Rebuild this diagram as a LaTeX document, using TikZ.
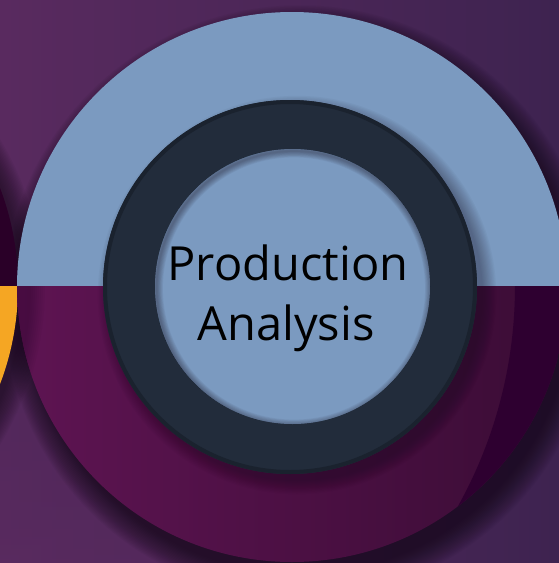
\documentclass[tikz,border=0pt]{standalone}
\usepackage{fontspec}
\setmainfont{Open Sans}
\definecolor{bgl}{HTML}{592A5F}
\definecolor{bgr}{HTML}{3E2350}
\definecolor{lblue}{HTML}{7B9AC0}
\definecolor{magl}{HTML}{5E1452}
\definecolor{magr}{HTML}{3A0C35}
\definecolor{magdark}{HTML}{2E0030}
\definecolor{ringc}{HTML}{222C3B}
\definecolor{ringb}{HTML}{1A222E}
\definecolor{leftdark}{HTML}{2A0028}
\definecolor{orng}{HTML}{F5A623}
\definecolor{shad}{HTML}{140A18}
\tikzset{
  labeltext/.style={font=\fontsize{47}{60}\selectfont, text=black, anchor=base, inner sep=0pt}
}
\begin{document}
\begin{tikzpicture}[x=1pt,y=-1pt]
\useasboundingbox (0,0) rectangle (559,563);
\begin{scope}
\clip (0,0) rectangle (559,563);
% background
\shade[left color=bgl, right color=bgr] (0,0) rectangle (559,563);
\shade[top color=bgl!0!bgr, bottom color=bgl, opacity=0.35] (0,300) rectangle (300,563);
% big circle shadow
\foreach \i in {0,...,19} {
  \fill[shad, opacity=0.05] (300,302) circle ({272pt+\i*1.3pt});
}
% left circle shadow
\foreach \i in {0,...,14} {
  \fill[shad, opacity=0.05] (-252,292) circle ({275pt+\i*1.4pt});
}
% left circle
\begin{scope}
  \clip (-600,-100) rectangle (600,286);
  \fill[leftdark] (-257,286) circle (275pt);
\end{scope}
\begin{scope}
  \clip (-600,286) rectangle (600,700);
  \fill[orng] (-257,286) circle (275pt);
\end{scope}
% big circle top half
\begin{scope}
  \clip (-100,-100) rectangle (700,286);
  \fill[lblue] (292,287) circle (275pt);
\end{scope}
% big circle bottom half
\begin{scope}
  \clip (-100,286) rectangle (700,700);
  \clip (292,287) circle (275pt);
  \shade[left color=magl, right color=magr] (17,286) rectangle (567,563);
  \fill[magdark, even odd rule] (-1000,-1000) rectangle (1500,1500) (62,286) circle (453pt);
  % soft shadow under the split on the left
  \foreach \i in {0,...,7} {
    \fill[shad, opacity=0.035] (-257,286) circle ({288pt+\i*2pt});
  }
\end{scope}
% ring shadow
\foreach \i in {0,...,11} {
  \fill[shad, opacity=0.03] (297,295) circle ({186pt+\i*1.2pt});
}
% ring
\fill[ringc] (290,287) circle (187pt);
\draw[ringb, line width=4pt] (290,287) circle (185pt);
% inner circle
\fill[lblue] (292.5,286.5) circle (137.5pt);
\begin{scope}
  \clip (292.5,286.5) circle (137.5pt);
  \foreach \i in {0,...,7} {
    \draw[shad, opacity=0.05, line width={(8-\i)*1.6pt}] (294,288.5) circle (137.5pt);
  }
\end{scope}
% text
\node[labeltext] (l1) at (288,280) {Production};
\node[labeltext] (l2) at (286,340) {Analysis};
\end{scope}
\end{tikzpicture}
\end{document}
